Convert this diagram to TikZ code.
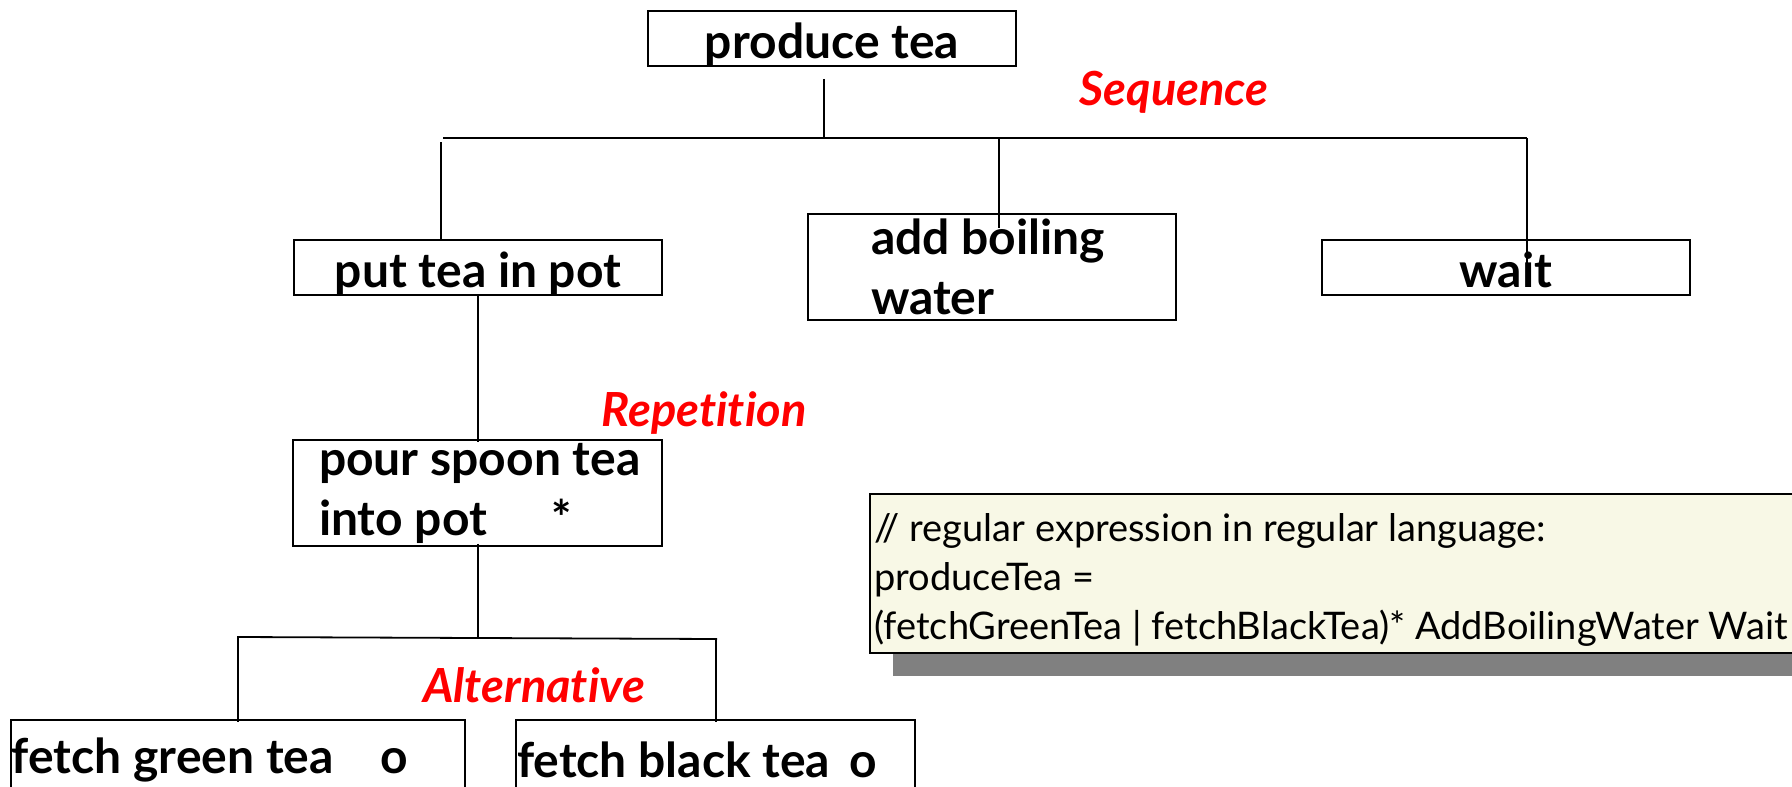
\documentclass[tikz,border=0pt]{standalone}
\usepackage{fontspec}
\setmainfont{Lato}[Ligatures=NoCommon]
\usetikzlibrary{shadows}
\definecolor{notefill}{RGB}{248,248,230}
\definecolor{shadowgray}{RGB}{128,128,128}
\begin{document}
\begin{tikzpicture}[x=1pt,y=-1pt,
  box/.style={draw, line width=1.8pt, inner sep=0pt, font=\bfseries\fontsize{48}{60}\selectfont},
  onebox/.style={box, minimum width=368pt, minimum height=55pt, text height=40pt, text depth=0pt},
  lbl/.style={text=red, inner sep=0pt, font=\bfseries\itshape\fontsize{47}{50}\selectfont},
  conn/.style={line width=1.8pt},
  note/.style={draw, line width=2.4pt, fill=notefill, align=flush left, inner xsep=4pt, inner ysep=0pt,
    font=\fontsize{38}{49}\selectfont,
    drop shadow={shadow xshift=23pt, shadow yshift=-23pt, fill=shadowgray, opacity=1}}]
\clip (0,0) rectangle (1792,787);
\fill[white] (0,0) rectangle (1792,787);

% nodes
\node[onebox] (pt) at (832,38.5) {produce tea};
\node[onebox] (put) at (478,267.5) {put tea in pot};
\node[box, minimum height=106pt, text width=242pt, inner xsep=63pt, align=flush left] (add) at (992,267)
  {\mbox{add boiling}\\water};
\node[onebox] (wait) at (1506,267.5) {wait};
\node[box, minimum height=106pt, text width=317pt, inner xsep=26pt, align=flush left] (pour) at (477.5,493)
  {\mbox{pour spoon tea}\\\makebox[232pt][l]{into pot}*};
\node[box, minimum height=80pt, text width=452pt, inner xsep=1pt, align=flush left] (green) at (238,760)
  {\makebox[368pt][l]{fetch green tea}o};
\node[box, minimum height=80pt, text width=397pt, inner xsep=1pt, align=flush left] (black) at (715.5,760)
  {\makebox[332pt][l]{fetch black tea}o};

% labels
\node[lbl] (seq) at (1174,92) {Sequence};
\node[lbl] (rep) at (704,413) {Repetition};
\node[lbl] (alt) at (534,685) {Alternative};

% note
\node[note, anchor=north west, minimum width=1000pt, minimum height=159pt, text width=992pt] (note) at (869,493)
  {\rule{0pt}{40pt}// regular expression in regular language:\\produceTea =\\(fetchGreenTea | fetchBlackTea)* AddBoilingWater Wait};

% sequence connectors
\coordinate (sL) at (443,138);
\coordinate (sR) at (1527,138);
\draw[conn] ([xshift=-8pt,yshift=-12pt]pt.south) -- ([xshift=-8pt]pt.south |- sL);
\draw[conn] (sL) -- (sR);
\draw[conn] ([xshift=-2pt,yshift=-4pt]sL) -- ([xshift=-37pt]put.north);
\draw[conn] ([xshift=7pt]add.north |- sL) -- ([xshift=7pt,yshift=-15pt]add.north);
\draw[conn] (sR) -- ([yshift=-41pt]sR |- wait.north);

% repetition connector
\draw[conn] (put.south) -- ([yshift=-3pt]put.south |- pour.north);

% alternative connectors
\coordinate (aL) at (238,637);
\coordinate (aR) at (717,639);
\draw[conn] ([xshift=0.5pt,yshift=3pt]pour.south) -- ([xshift=0.5pt]pour.south |- aL);
\draw[conn] (aL) -- (aR);
\draw[conn] ([yshift=1pt]aL) -- ([yshift=-3pt]aL |- green.north);
\draw[conn] ([xshift=-1pt]aR) -- ([xshift=-1pt,yshift=-3pt]aR |- black.north);
\end{tikzpicture}
\end{document}
